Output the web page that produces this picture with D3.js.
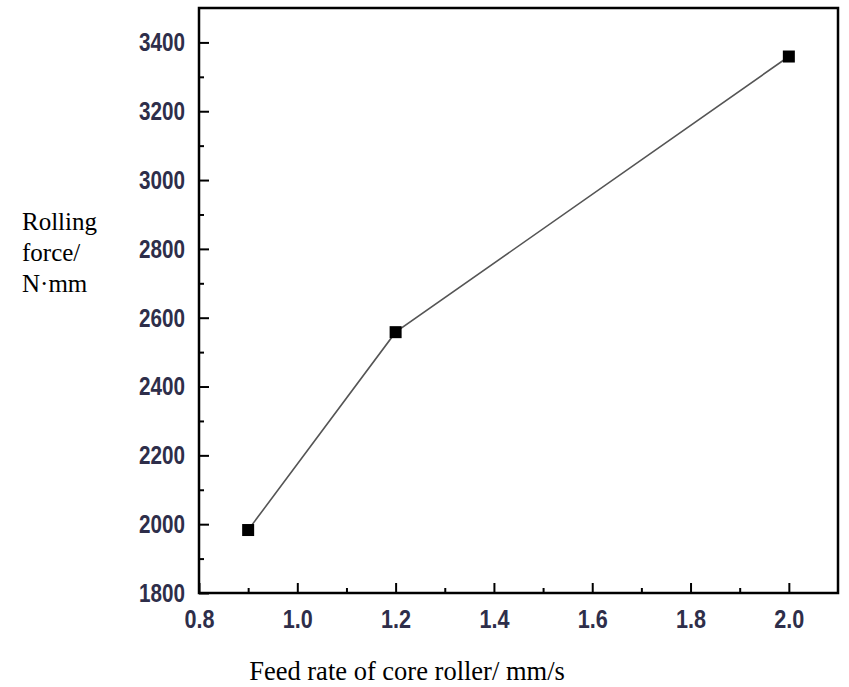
<!DOCTYPE html>
<html><head><meta charset="utf-8">
<script src="https://cdn.jsdelivr.net/npm/d3@7"></script>
<style>
html,body{margin:0;padding:0;background:#fff;}
svg{display:block;}
</style></head>
<body>
<svg id="chart" width="849" height="687"></svg>
<script>
const feedRate = [0.9, 1.2, 2.0];
const rollingForce = [1983, 2558, 3359];
const xTicks = [0.8, 1.0, 1.2, 1.4, 1.6, 1.8, 2.0];
const yTicks = [1800, 2000, 2200, 2400, 2600, 2800, 3000, 3200, 3400];
const xMinor = [0.9, 1.1, 1.3, 1.5, 1.7, 1.9];
const yMinor = [1900, 2100, 2300, 2500, 2700, 2900, 3100, 3300];
const yTitleLines = ["Rolling", "force/", "N·mm"];
const xTitle = "Feed rate of core roller/ mm/s";

const svg = d3.select("#chart");
const plotL = 199, plotR = 838, plotT = 8, plotB = 593;
const x = d3.scaleLinear().domain([0.8, 2.1]).range([plotL, plotR]);
const y = d3.scaleLinear().domain([1800, 3500]).range([plotB, plotT]);

const tickFont = "'Liberation Sans Narrow','Arial Narrow','Liberation Sans',Arial,sans-serif";
const tickColor = "#2e2e4a";

// minor ticks
svg.append("g").attr("transform", `translate(0,${plotB})`)
  .call(d3.axisBottom(x).tickValues(xMinor).tickSize(-5).tickFormat(""))
  .call(g => g.select(".domain").remove())
  .call(g => g.selectAll("line").attr("stroke", "#000").attr("stroke-width", 2));
svg.append("g").attr("transform", `translate(${plotL},0)`)
  .call(d3.axisLeft(y).tickValues(yMinor).tickSize(-5).tickFormat(""))
  .call(g => g.select(".domain").remove())
  .call(g => g.selectAll("line").attr("stroke", "#000").attr("stroke-width", 2));

// major ticks + labels
svg.append("g").attr("transform", `translate(0,${plotB})`)
  .call(d3.axisBottom(x).tickValues(xTicks).tickSize(-10).tickPadding(17).tickFormat(d3.format(".1f")))
  .call(g => g.select(".domain").remove())
  .call(g => g.selectAll("line").attr("stroke", "#000").attr("stroke-width", 2))
  .call(g => g.selectAll("text").attr("font-family", tickFont).attr("font-size", 26)
      .attr("font-weight", "bold").attr("fill", tickColor)
      .attr("textLength", 30).attr("lengthAdjust", "spacingAndGlyphs"));
svg.append("g").attr("transform", `translate(${plotL},0)`)
  .call(d3.axisLeft(y).tickValues(yTicks).tickSize(-10).tickPadding(14).tickFormat(d3.format("d")))
  .call(g => g.select(".domain").remove())
  .call(g => g.selectAll("line").attr("stroke", "#000").attr("stroke-width", 2))
  .call(g => g.selectAll("text").attr("font-family", tickFont).attr("font-size", 26)
      .attr("font-weight", "bold").attr("fill", tickColor)
      .attr("textLength", 46).attr("lengthAdjust", "spacingAndGlyphs"));

// frame
svg.append("rect")
  .attr("x", x(0.8)).attr("y", y(3500))
  .attr("width", x(2.1) - x(0.8)).attr("height", y(1800) - y(3500))
  .attr("fill", "none").attr("stroke", "#000").attr("stroke-width", 2.5);

// line
const pts = feedRate.map((d, i) => [d, rollingForce[i]]);
svg.append("path").datum(pts)
  .attr("d", d3.line().x(d => x(d[0])).y(d => y(d[1])))
  .attr("fill", "none").attr("stroke", "#555").attr("stroke-width", 1.6);

// markers
svg.selectAll("rect.mk").data(pts).join("rect").attr("class", "mk")
  .attr("x", d => x(d[0]) - 6).attr("y", d => y(d[1]) - 6)
  .attr("width", 12).attr("height", 12).attr("fill", "#000");

// titles
const yt = svg.append("text").attr("font-family", "'Liberation Serif','Times New Roman',serif")
  .attr("font-size", 25).attr("fill", "#000");
yt.selectAll("tspan").data(yTitleLines).join("tspan")
  .attr("x", 22).attr("y", (d, i) => 230 + i * 31).text(d => d);

svg.append("text").attr("font-family", "'Liberation Serif','Times New Roman',serif")
  .attr("font-size", 26.5).attr("fill", "#000")
  .attr("x", 407).attr("y", 680).attr("text-anchor", "middle").text(xTitle);
</script>
</body></html>
